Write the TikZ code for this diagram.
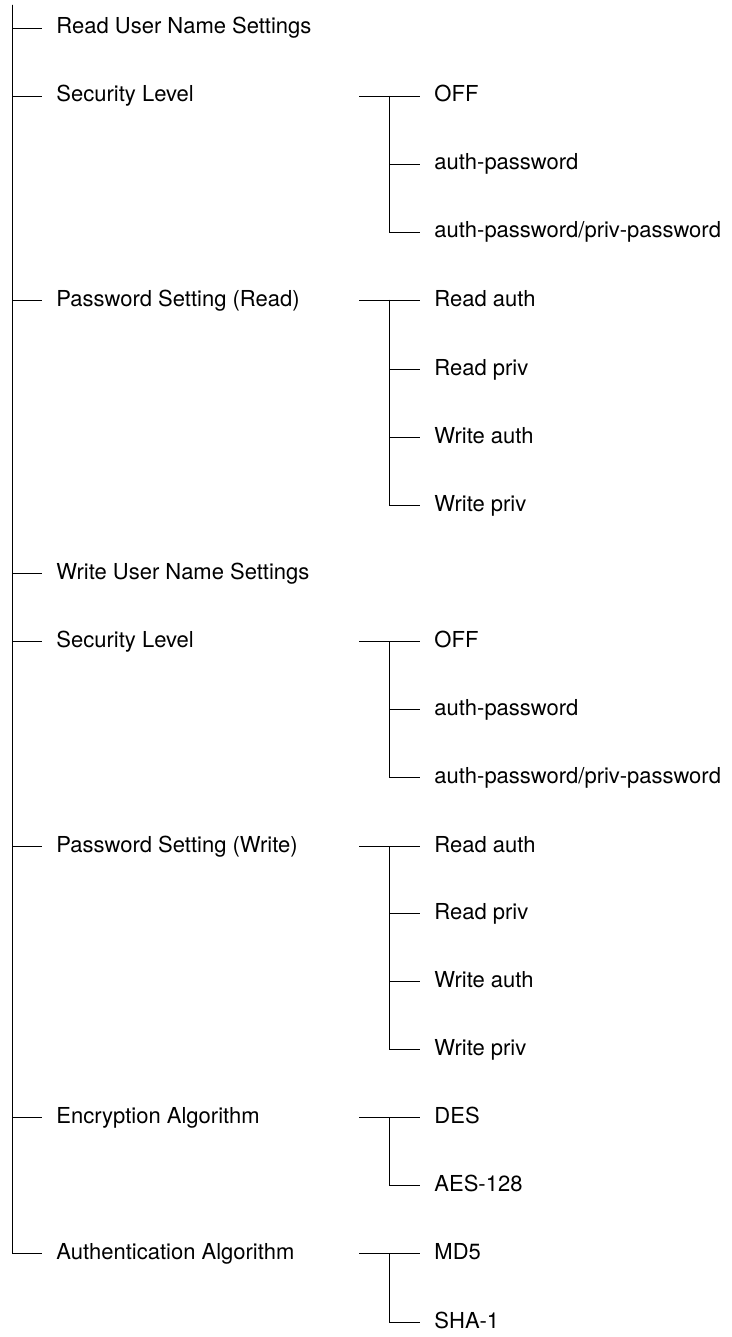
\documentclass[tikz,border=0pt]{standalone}
\usepackage{fontspec}
\setmainfont{TeX Gyre Heros}

\begin{document}
\begin{tikzpicture}[x=1pt, y=-1pt, line width=0.9pt,
    item/.style={anchor=west, inner xsep=14pt, inner ysep=0pt,
        text height=12pt, text depth=0pt, font=\fontsize{22}{26}\selectfont}]
    \useasboundingbox (0,0) rectangle (731,1337);
    \coordinate (top) at (12,5);
    \foreach \y/\t [count=\i] in {28/Read User Name Settings, 96/Security Level,
        300/{Password Setting (Read)}, 573/Write User Name Settings, 641/Security Level,
        846/{Password Setting (Write)}, 1117/Encryption Algorithm, 1253/Authentication Algorithm} {
        \node[item] (m\i) at (42,\y) {\t};
        \draw (top) |- (m\i.west);
    }
    \foreach \n/\c in {s/2, r/3, t/5, w/6, e/7, h/8} {
        \coordinate (\n0) at (359,0 |- m\c.west);
        \coordinate (k\n) at (389,0 |- m\c.west);
    }
    \foreach \y/\t [count=\j] in {96/OFF, 164/auth-password, 232/{auth-password/priv-password}} {
        \node[item] (s\j) at (420,\y) {\t};
        \draw (ks) |- (s\j.west);
    }
    \foreach \y/\t [count=\j] in {300/Read auth, 369/Read priv, 437/Write auth, 505/Write priv} {
        \node[item] (r\j) at (420,\y) {\t};
        \draw (kr) |- (r\j.west);
    }
    \foreach \y/\t [count=\j] in {641/OFF, 709/auth-password, 777/{auth-password/priv-password}} {
        \node[item] (t\j) at (420,\y) {\t};
        \draw (kt) |- (t\j.west);
    }
    \foreach \y/\t [count=\j] in {846/Read auth, 913/Read priv, 981/Write auth, 1049/Write priv} {
        \node[item] (w\j) at (420,\y) {\t};
        \draw (kw) |- (w\j.west);
    }
    \foreach \y/\t [count=\j] in {1117/DES, 1185/AES-128} {
        \node[item] (e\j) at (420,\y) {\t};
        \draw (ke) |- (e\j.west);
    }
    \foreach \y/\t [count=\j] in {1253/MD5, 1322/SHA-1} {
        \node[item] (h\j) at (420,\y) {\t};
        \draw (kh) |- (h\j.west);
    }
    \foreach \n in {s, r, t, w, e, h} {
        \draw (\n0) -- (\n1.west);
    }
\end{tikzpicture}
\end{document}
